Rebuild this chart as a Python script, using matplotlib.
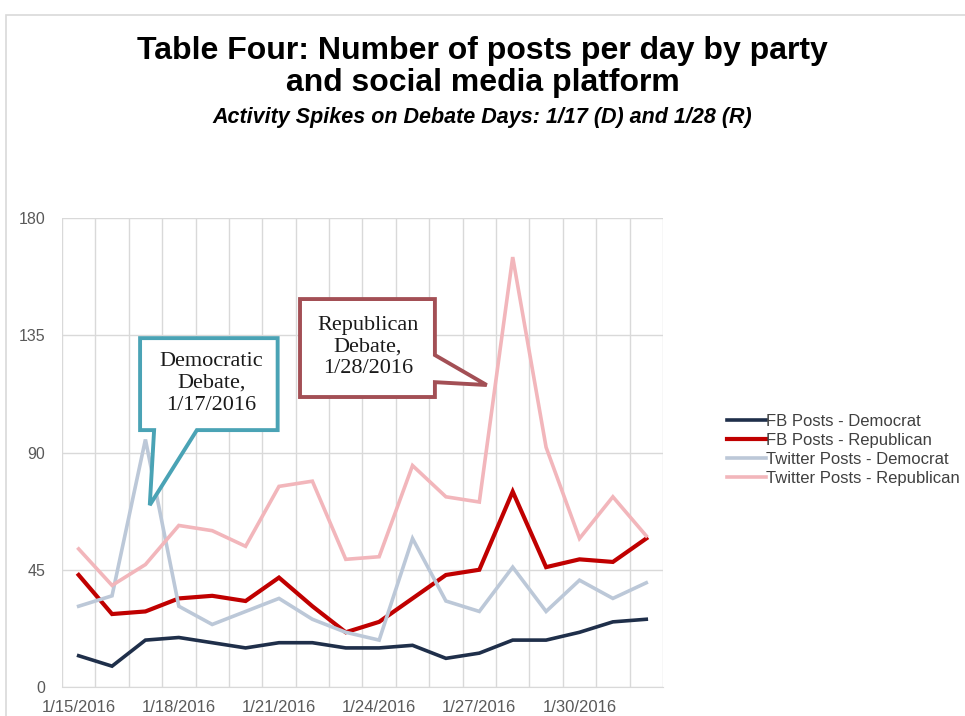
import matplotlib.pyplot as plt
from matplotlib.patches import Polygon, Rectangle

plt.rcParams['font.family'] = ['Liberation Sans', 'DejaVu Sans']

# daily post counts, 1/15/2016 - 2/1/2016
dates = ['1/15/2016', '1/16/2016', '1/17/2016', '1/18/2016', '1/19/2016', '1/20/2016',
         '1/21/2016', '1/22/2016', '1/23/2016', '1/24/2016', '1/25/2016', '1/26/2016',
         '1/27/2016', '1/28/2016', '1/29/2016', '1/30/2016', '1/31/2016', '2/1/2016']
fb_dem = [12, 8, 18, 19, 17, 15, 17, 17, 15, 15, 16, 11, 13, 18, 18, 21, 25, 26]
fb_rep = [43, 28, 29, 34, 35, 33, 42, 31, 21, 25, 34, 43, 45, 75, 46, 49, 48, 57]
tw_dem = [31, 35, 95, 31, 24, 29, 34, 26, 21, 18, 57, 33, 29, 46, 29, 41, 34, 40]
tw_rep = [53, 39, 47, 62, 60, 54, 77, 79, 49, 50, 85, 73, 71, 165, 92, 57, 73, 58]

series = [
    ('FB Posts - Democrat', fb_dem, '#1f2f4a', 2.6),
    ('FB Posts - Republican', fb_rep, '#c00000', 3.0),
    ('Twitter Posts - Democrat', tw_dem, '#bcc8d8', 2.6),
    ('Twitter Posts - Republican', tw_rep, '#f2b6bb', 2.6),
]

fig = plt.figure(figsize=(9.65, 7.16), dpi=100)
ax = fig.add_axes([0.0642, 0.0405, 0.6228, 0.655])

# light frame around the chart area
fig.patches.append(Rectangle((6 / 965, -0.1), 1.2, 1 - 15 / 716 + 0.1,
                             transform=fig.transFigure, fill=False,
                             edgecolor='#d9d9d9', linewidth=1.2))

x = list(range(len(dates)))
for name, vals, col, lw in series:
    ax.plot(x, vals, color=col, linewidth=lw, label=name, solid_joinstyle='miter')

ax.set_xlim(-0.5, len(dates) - 0.5)
ax.set_ylim(0, 180)
ax.set_yticks([0, 45, 90, 135, 180])
ax.set_xticks(x[::3])
ax.set_xticklabels(dates[::3])
ax.set_xticks([i - 0.5 for i in range(len(dates) + 1)], minor=True)
ax.tick_params(which='both', length=0, labelsize=12, labelcolor='#595959')
ax.tick_params(axis='x', pad=9)
ax.tick_params(axis='y', pad=12, labelsize=11.5)
ax.grid(True, which='major', axis='y', color='#d9d9d9', linewidth=1)
ax.grid(True, which='minor', axis='x', color='#d9d9d9', linewidth=1)
ax.set_axisbelow(True)
for s in ['top', 'right', 'left']:
    ax.spines[s].set_visible(False)
ax.spines['bottom'].set_color('#d9d9d9')

# callout boxes
dem_box = [(1.84, 133.9), (5.96, 133.9), (5.96, 98.6), (3.54, 98.6),
           (2.13, 69.8), (2.26, 98.6), (1.84, 98.6)]
rep_box = [(6.63, 148.9), (10.67, 148.9), (10.67, 127.4), (12.22, 115.9),
           (10.67, 117.0), (10.67, 111.3), (6.63, 111.3)]
ax.add_patch(Polygon(dem_box, closed=True, facecolor='white', edgecolor='#4aa3b5',
                     linewidth=2.8, zorder=5, joinstyle='miter'))
ax.add_patch(Polygon(rep_box, closed=True, facecolor='white', edgecolor='#a34f55',
                     linewidth=2.8, zorder=5, joinstyle='miter'))
ax.text(3.97, 116.5, 'Democratic\nDebate,\n1/17/2016', ha='center', va='center',
        family='Liberation Serif', fontsize=16, color='#1a1a1a', zorder=6,
        linespacing=1.2)
ax.text(8.66, 130.5, 'Republican\nDebate,\n1/28/2016', ha='center', va='center',
        family='Liberation Serif', fontsize=16, color='#1a1a1a', zorder=6,
        linespacing=1.2)

fig.text(0.5, 0.907, 'Table Four: Number of posts per day by party\nand social media platform',
         ha='center', va='center', fontsize=23, fontweight='bold', linespacing=1.08)
fig.text(0.5, 0.836, 'Activity Spikes on Debate Days: 1/17 (D) and 1/28 (R)',
         ha='center', va='center', fontsize=15.5, fontweight='bold', style='italic')

leg = fig.legend(loc='upper left', bbox_to_anchor=(0.738, 0.443), frameon=False,
                 fontsize=12, handlelength=2.3, handletextpad=0.05, labelspacing=0.25)
for t in leg.get_texts():
    t.set_color('#404040')

fig.savefig('out.png', dpi=100)
